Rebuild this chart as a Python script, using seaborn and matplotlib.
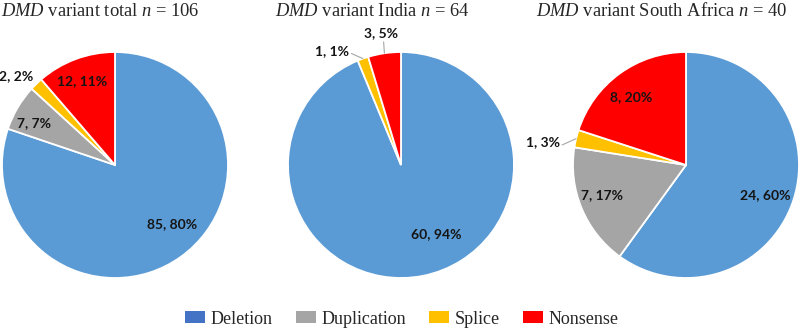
import numpy as np
import matplotlib
matplotlib.use("Agg")
import matplotlib.pyplot as plt
import seaborn as sns
from matplotlib.patches import Patch

# ---------------- data ----------------
categories = ["Deletion", "Duplication", "Splice", "Nonsense"]
total_counts = [85, 7, 2, 12]
total_pcts = [80, 7, 2, 11]
india_counts = [60, 0, 1, 3]
india_pcts = [94, 0, 1, 5]
sa_counts = [24, 7, 1, 8]
sa_pcts = [60, 17, 3, 20]
panel_names = ["total", "India", "South Africa"]
panel_n = [106, 64, 40]

# ---------------- style ----------------
sns.set_theme(style="white")
plt.rcParams["mathtext.fontset"] = "custom"
plt.rcParams["mathtext.rm"] = "Liberation Serif"
plt.rcParams["mathtext.it"] = "Liberation Serif:italic"
pie_colors = sns.color_palette(["#5B9BD5", "#A5A5A5", "#FFC000", "#FF0000"])
legend_colors = sns.color_palette(["#4472C4", "#A5A5A5", "#FFC000", "#FF0000"])

W, H, DPI = 800, 333, 100
R = 113
centers = [(115, 165), (401, 165), (686, 165)]
title_x = [100, 372, 662]

# label placement: category -> (radius, angle offset from wedge middle)
label_pos = [
    {"Deletion": (0.73, 8.3), "Duplication": (0.81, 3.2), "Splice": (1.18, 3.8), "Nonsense": (0.80, 1.1)},
    {"Deletion": (0.69, 15.7), "Splice": (1.18, 11.3), "Nonsense": (1.18, 0.2)},
    {"Deletion": (0.75, -2.7), "Duplication": (0.79, -2.5), "Splice": (1.28, 4.3), "Nonsense": (0.77, 3.0)},
]
leaders = [
    {},
    {"Splice": (1.08, 4.3), "Nonsense": (1.10, -0.4)},
    {"Splice": (1.11, 4.3)},
]

fig = plt.figure(figsize=(W / DPI, H / DPI), dpi=DPI)
fig.patch.set_facecolor("white")

datasets = [(total_counts, total_pcts), (india_counts, india_pcts), (sa_counts, sa_pcts)]

for i, ((counts, pcts), (cx, cy)) in enumerate(zip(datasets, centers)):
    ax = fig.add_axes([(cx - R) / W, (H - cy - R) / H, 2 * R / W, 2 * R / H])
    keep = [j for j, c in enumerate(counts) if c > 0]
    vals = [counts[j] for j in keep]
    cols = [pie_colors[j] for j in keep]
    wedges, _ = ax.pie(vals, colors=cols, startangle=90, counterclock=False, radius=1,
                       wedgeprops=dict(edgecolor="white", linewidth=1.3))
    ax.set_xlim(-1, 1)
    ax.set_ylim(-1, 1)
    ax.set_aspect("equal")
    ax.axis("off")
    for w, j in zip(wedges, keep):
        cat = categories[j]
        mid = (w.theta1 + w.theta2) / 2
        r, dth = label_pos[i][cat]
        a = np.deg2rad(mid + dth)
        ax.text(r * np.cos(a), r * np.sin(a), f"{counts[j]}, {pcts[j]}%",
                ha="center", va="center", fontsize=10, fontweight="bold",
                family="Lato", color="#141414", clip_on=False)
        if cat in leaders[i]:
            re, dl = leaders[i][cat]
            a0 = np.deg2rad(mid)
            a1 = np.deg2rad(mid + dl)
            ax.plot([np.cos(a0), re * np.cos(a1)], [np.sin(a0), re * np.sin(a1)],
                    color="#A6A6A6", lw=0.8, clip_on=False)
    fig.text(title_x[i] / W, 1 - 11 / H,
             f"$DMD$ variant {panel_names[i]} $n$ = {panel_n[i]}",
             ha="center", va="center", fontsize=13.3, family="Liberation Serif")

handles = [Patch(facecolor=c, edgecolor="none", label=l) for c, l in zip(legend_colors, categories)]
fig.legend(handles=handles, loc="center", bbox_to_anchor=(402 / W, (H - 319) / H), ncol=4,
           frameon=False, prop={"family": "Liberation Serif", "size": 13},
           handlelength=1.1, handleheight=0.67, handletextpad=0.3, columnspacing=1.3,
           borderaxespad=0, borderpad=0)

fig.savefig("out.png", dpi=DPI, facecolor="white")
